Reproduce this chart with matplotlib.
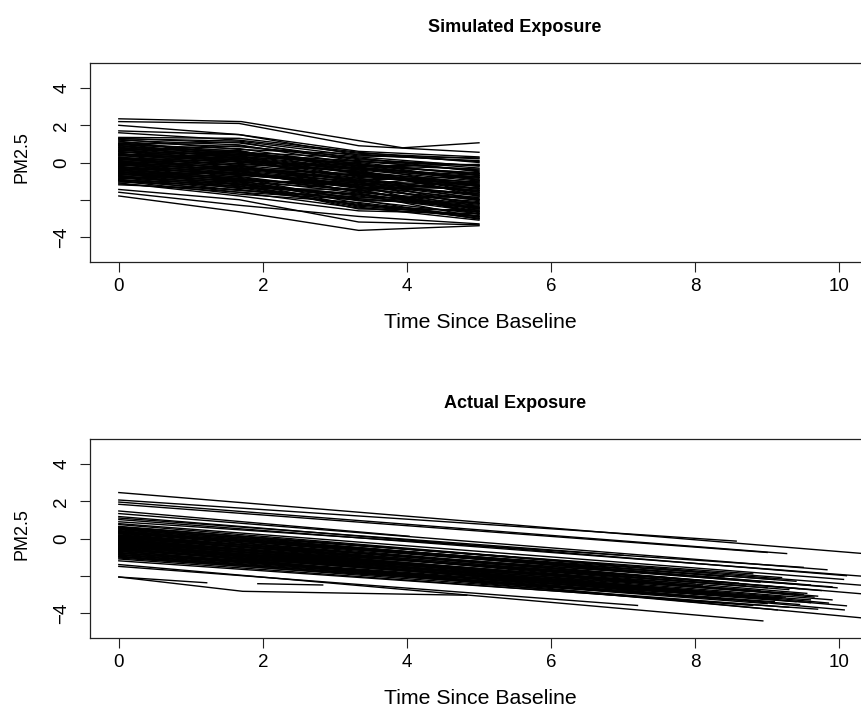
import numpy as np
import matplotlib
matplotlib.use("Agg")
import matplotlib.pyplot as plt

plt.rcParams['font.family'] = ['Liberation Sans', 'DejaVu Sans']

# simulated exposure: four visits per subject
sim_times = [0, 1.67, 3.33, 5]
sim_values = [
    [2.20, 2.10, 0.90, 0.55],
    [2.00, 1.50, 0.60, 0.30],
    [1.70, 1.50, 0.40, 0.10],
    [1.60, 1.20, 0.50, 0.20],
    [1.35, 1.30, 0.55, 0.00],
    [1.30, 1.05, 0.20, -0.30],
    [1.28, 1.15, 0.35, 0.25],
    [1.25, 0.70, 0.45, 0.05],
    [1.20, 0.95, -0.10, -0.60],
    [1.15, 0.40, 0.10, -0.45],
    [1.10, 0.85, 0.30, -0.20],
    [1.05, 0.60, -0.35, -0.90],
    [1.02, 0.50, 0.05, -0.40],
    [1.00, 0.30, 0.00, -0.70],
    [0.98, 1.10, 0.05, -0.15],
    [0.95, 0.75, -0.20, -0.10],
    [0.92, 0.40, -0.10, -0.65],
    [0.90, 0.20, -0.55, -1.10],
    [0.85, 0.55, 0.25, -0.50],
    [0.82, 0.25, -0.40, -1.00],
    [0.80, 0.10, -0.30, -0.80],
    [0.75, 0.65, -0.60, -1.40],
    [0.72, 0.50, -0.25, -0.80],
    [0.70, 0.00, -0.15, -0.35],
    [0.65, 0.35, -0.80, -1.20],
    [0.62, 0.90, 0.15, -0.15],
    [0.60, -0.10, -0.45, -1.60],
    [0.58, 0.20, -0.60, -1.25],
    [0.55, 0.45, -0.05, -0.95],
    [0.50, -0.20, -0.95, -0.75],
    [0.48, 0.05, -0.50, -1.10],
    [0.45, 0.15, -0.40, -1.80],
    [0.42, 0.35, -0.30, -0.70],
    [0.40, -0.30, -0.70, -1.05],
    [0.38, 0.60, -0.20, -0.55],
    [0.35, 0.25, -1.10, -1.50],
    [0.30, -0.40, -0.25, -1.30],
    [0.28, -0.15, -0.70, -1.40],
    [0.25, 0.05, -0.85, -2.00],
    [0.22, -0.35, -0.60, -1.20],
    [0.20, -0.50, -1.20, -0.60],
    [0.18, 0.45, -0.15, -0.95],
    [0.15, -0.05, -0.50, -1.70],
    [0.12, 0.30, -0.35, -0.85],
    [0.10, -0.60, -1.00, -1.25],
    [0.08, -0.30, -0.85, -1.60],
    [0.05, -0.15, -1.35, -2.20],
    [0.02, -0.45, -1.05, -1.75],
    [0.00, -0.70, -0.65, -1.45],
    [-0.02, 0.20, -0.55, -1.30],
    [-0.05, -0.25, -1.15, -1.90],
    [-0.08, -0.40, -0.95, -1.50],
    [-0.10, -0.80, -1.50, -1.00],
    [-0.12, -0.60, -1.20, -2.05],
    [-0.15, -0.35, -0.90, -2.40],
    [-0.18, 0.10, -0.75, -1.15],
    [-0.20, -0.90, -1.30, -1.65],
    [-0.22, -0.70, -1.10, -1.80],
    [-0.25, -0.45, -1.60, -2.10],
    [-0.28, -0.60, -1.35, -2.20],
    [-0.30, -1.00, -1.05, -2.60],
    [-0.32, -0.85, -1.50, -2.45],
    [-0.35, -0.55, -1.40, -1.35],
    [-0.38, -0.95, -1.20, -1.70],
    [-0.40, -1.10, -1.75, -2.30],
    [-0.42, -0.20, -1.00, -1.55],
    [-0.45, -0.65, -1.25, -2.80],
    [-0.48, -0.90, -1.65, -2.60],
    [-0.50, -1.20, -1.90, -1.85],
    [-0.52, -1.05, -1.45, -2.00],
    [-0.55, -0.75, -1.55, -2.50],
    [-0.58, -1.15, -1.80, -2.65],
    [-0.60, -1.30, -1.70, -2.95],
    [-0.62, -1.00, -1.95, -2.40],
    [-0.65, -0.85, -2.05, -2.15],
    [-0.68, -0.50, -1.30, -1.95],
    [-0.70, -1.40, -1.45, -2.70],
    [-0.72, -1.20, -1.70, -2.50],
    [-0.75, -0.95, -2.20, -3.00],
    [-0.78, -1.30, -2.05, -2.75],
    [-0.80, -1.50, -1.85, -2.35],
    [-0.85, -1.05, -2.35, -2.85],
    [-0.88, -0.40, -1.60, -2.25],
    [-0.90, -1.60, -2.00, -3.05],
    [-0.92, -1.35, -2.30, -2.65],
    [-0.95, -1.15, -2.50, -2.55],
    [-0.98, -1.50, -1.95, -2.45],
    [-1.00, -1.70, -2.15, -2.90],
    [-1.05, -1.25, -2.40, -3.10],
    [-1.10, -1.80, -2.60, -2.75],
    [-1.15, -1.60, -2.45, -2.90],
    [-1.20, -1.45, -2.25, -3.00],
    [-1.45, -2.00, -3.20, -3.35],
    [-1.60, -2.30, -2.90, -3.30],
    [-1.80, -2.65, -3.65, -3.40],
]
# one subject measured at other times
sim_odd_times = [0, 1.70, 3.94, 5]
sim_odd_values = [2.35, 2.20, 0.79, 1.06]

# actual exposure: visit times and values of each subject
act_t = [
    [0, 10.4], [0, 8.57], [0, 9.27], [0, 9.0], [0, 4.03],
    [0, 9.83], [0, 10.1], [0, 10.4], [0, 9.5], [0, 10.06],
    [0, 10.4], [0, 9.97], [0, 8.8], [0, 9.4], [0, 10.3],
    [0, 8.2], [0, 9.1], [0, 9.65], [0, 8.6], [0, 9.9],
    [0, 7.9], [0, 9.3], [0, 9.85], [0, 8.5], [0, 9.0],
    [0, 10.1], [0, 7.6], [0, 9.5], [0, 10.07], [0, 8.9],
    [0, 9.2], [0, 8.3], [0, 10.4], [0, 9.6], [0, 8.7],
    [0, 9.14], [0, 7.8], [0, 9.4], [0, 8.1], [0, 9.0],
    [0, 8.5], [0, 9.3], [0, 7.5], [0, 8.8], [0, 8.94],
    [0, 9.7], [0, 7.2], [0, 1.22], [0, 1.72, 4.83], [1.93, 2.83],
    [0, 5.5], [0, 6.8], [0, 6.0], [0, 7.0], [0, 4.67],
    [0, 8.4], [0, 9.05], [0, 8.0], [0, 9.45], [0, 8.65],
    [0, 9.2], [0, 8.9], [0, 9.6], [0, 8.4], [0, 9.75],
    [0, 8.7], [0, 9.55], [0, 8.3], [0, 9.0], [0, 9.7],
    [0, 8.1], [0, 9.35], [0, 8.75], [0, 9.9], [0, 8.45],
    [0, 9.25], [0, 8.0], [0, 9.6], [0, 8.6], [0, 9.15],
    [0, 8.25], [0, 9.45], [0, 8.55], [0, 9.1], [0, 8.35],
]
act_y = [
    [2.47, -0.83], [2.07, -0.14], [1.96, -0.81], [1.84, -0.75], [1.48, 0.12],
    [1.34, -1.68], [1.18, -2.00], [1.02, -2.05], [0.90, -1.55], [0.80, -2.20],
    [0.65, -2.54], [0.58, -2.65], [0.52, -1.90], [0.47, -2.30], [0.40, -2.97],
    [0.35, -1.85], [0.30, -2.20], [0.25, -3.15], [0.20, -2.40], [0.15, -2.60],
    [0.10, -2.00], [0.05, -2.75], [0.00, -3.47], [-0.05, -2.50], [-0.10, -2.90],
    [-0.15, -3.62], [-0.20, -2.10], [-0.25, -3.00], [-0.30, -3.84], [-0.35, -2.80],
    [-0.40, -3.20], [-0.45, -2.70], [-0.50, -4.30], [-0.55, -3.30], [-0.60, -3.10],
    [-0.65, -3.84], [-0.70, -2.90], [-0.75, -3.40], [-0.85, -3.00], [-0.90, -3.50],
    [-0.95, -3.30], [-1.00, -3.70], [-1.05, -3.00], [-1.10, -3.60], [-1.40, -4.43],
    [-1.20, -3.80], [-1.50, -3.60], [-2.07, -2.38], [-2.07, -2.84, -3.05], [-2.43, -2.50],
    [0.75, -1.00], [0.62, -1.40], [-0.30, -2.20], [1.10, -0.90], [-0.55, -2.16],
    [0.55, -2.05], [-0.80, -3.25], [-0.25, -2.45], [0.32, -2.70], [-0.62, -3.05],
    [0.62, -2.10], [0.50, -2.35], [0.43, -2.50], [0.37, -2.15], [0.28, -2.80],
    [0.18, -2.55], [0.12, -2.95], [0.08, -2.35], [0.02, -2.65], [-0.03, -3.10],
    [-0.08, -2.55], [-0.12, -3.00], [-0.18, -2.85], [-0.22, -3.30], [-0.28, -2.95],
    [-0.33, -3.15], [-0.38, -2.85], [-0.43, -3.45], [-0.48, -3.05], [-0.53, -3.25],
    [-0.58, -3.00], [-0.68, -3.55], [-0.78, -3.30], [-0.88, -3.40], [-0.98, -3.20],
]

xticks = [0, 2, 4, 6, 8, 10]
yticks = [-4, -2, 0, 2, 4]
ytick_labels = ['\u22124', '', '0', '2', '4']

fig = plt.figure(figsize=(8.62, 7.17), dpi=100)
ax1 = fig.add_axes([90 / 862, 1 - 262 / 717, 778 / 862, 199 / 717])
ax2 = fig.add_axes([90 / 862, 1 - 638 / 717, 778 / 862, 199 / 717])

lw = 1.0
for vals in sim_values:
    ax1.plot(sim_times, vals, color='black', lw=lw)
ax1.plot(sim_odd_times, sim_odd_values, color='black', lw=lw)

for t, y in zip(act_t, act_y):
    ax2.plot(t, y, color='black', lw=lw)

for ax in (ax1, ax2):
    ax.set_xlim(-0.4, 10.4)
    ax.set_ylim(-5.35, 5.35)
    ax.set_xticks(xticks)
    ax.set_xticklabels([str(v) for v in xticks])
    ax.set_yticks(yticks)
    ax.set_yticklabels(ytick_labels, rotation=90, va='center')
    ax.tick_params(direction='out', length=7.2, width=0.8, labelsize=13.5,
                   color='#222222')
    ax.tick_params(axis='x', pad=4)
    ax.tick_params(axis='y', pad=7)
    for s in ax.spines.values():
        s.set_linewidth(0.9)
        s.set_color('#222222')

fig.text(515 / 862, 1 - 27 / 717, 'Simulated Exposure', ha='center', va='center',
         fontsize=13, fontweight='bold')
fig.text(515 / 862, 1 - 403 / 717, 'Actual Exposure', ha='center', va='center',
         fontsize=13, fontweight='bold')
fig.text(480 / 862, 1 - 323 / 717, 'Time Since Baseline', ha='center', va='center',
         fontsize=15.3)
fig.text(480 / 862, 1 - 698 / 717, 'Time Since Baseline', ha='center', va='center',
         fontsize=15.3)
fig.text(22 / 862, 1 - 157 / 717, 'PM2.5', ha='center', va='center',
         rotation=90, fontsize=13)
fig.text(22 / 862, 1 - 534 / 717, 'PM2.5', ha='center', va='center',
         rotation=90, fontsize=13)

fig.savefig('out.png', dpi=100)
